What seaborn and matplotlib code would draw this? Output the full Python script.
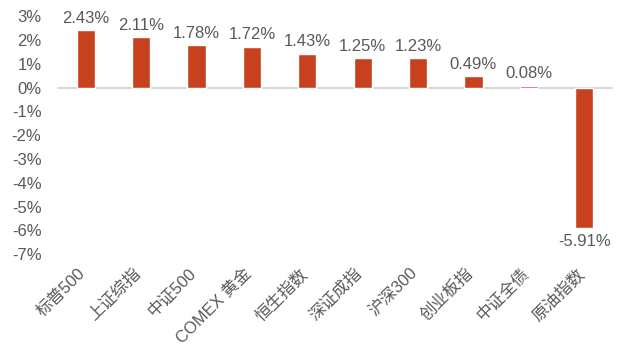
import matplotlib
matplotlib.use('Agg')
import matplotlib.pyplot as plt
import matplotlib.transforms as mtransforms
import seaborn as sns
import numpy as np
import pandas as pd
from matplotlib.ticker import FuncFormatter

# data
categories = ['标普500', '上证综指', '中证500', 'COMEX 黄金', '恒生指数',
              '深证成指', '沪深300', '创业板指', '中证全债', '原油指数']
returns = [2.43, 2.11, 1.78, 1.72, 1.43, 1.25, 1.23, 0.49, 0.08, -5.91]
y_ticks = [3, 2, 1, 0, -1, -2, -3, -4, -5, -6, -7]

df = pd.DataFrame({'name': categories, 'ret': returns})

sns.set_style("white")
plt.rcParams['font.family'] = ['Liberation Sans', 'Noto Sans CJK SC', 'DejaVu Sans']
text_color = '#595959'
bar_color = '#C8411E'

fig = plt.figure(figsize=(6.18, 3.51), dpi=100)
ax = fig.add_axes([0.094, 0.276, 0.896, 0.678])

sns.barplot(data=df, x='name', y='ret', color=bar_color, width=0.33,
            saturation=1, ax=ax, zorder=3)

ax.set_xlim(-0.5, len(categories) - 0.5)
ax.set_ylim(min(y_ticks), max(y_ticks))
ax.set_yticks(y_ticks)
ax.yaxis.set_major_formatter(FuncFormatter(lambda v, p: f'{v:.0f}%'))
ax.tick_params(axis='y', length=0, labelsize=12, labelcolor=text_color, pad=12)
ax.set_xlabel('')
ax.set_ylabel('')

# zero line with small ticks between categories
for s in ['top', 'right', 'left']:
    ax.spines[s].set_visible(False)
ax.spines['bottom'].set_position(('data', 0))
ax.spines['bottom'].set_color('#d0d0d0')
ax.spines['bottom'].set_linewidth(1.2)
ax.spines['bottom'].set_zorder(1)
ax.set_xticks(np.arange(len(categories)))
ax.set_xticks(np.arange(-0.5, len(categories), 1), minor=True)
ax.tick_params(axis='x', which='major', length=0, labelbottom=False)
ax.tick_params(axis='x', which='minor', length=4, width=1, color='#d0d0d0', direction='out')

# category labels at the bottom of the axes
sec = ax.secondary_xaxis('bottom')
sec.set_xticks(np.arange(len(categories)))
sec.set_xticklabels(categories, rotation=45, ha='right', rotation_mode='anchor')
sec.tick_params(length=0, labelsize=12, labelcolor=text_color, pad=8)
sec.spines['bottom'].set_visible(False)
shift = mtransforms.ScaledTranslation(-6 / 72, 0, fig.dpi_scale_trans)
for lab in sec.get_xticklabels():
    lab.set_transform(lab.get_transform() + shift)

# value labels
for i, v in enumerate(returns):
    if v >= 0:
        ax.annotate(f'{v:.2f}%', (i, v), xytext=(0, 3), textcoords='offset points',
                    ha='center', va='bottom', fontsize=12, color=text_color)
    else:
        ax.annotate(f'{v:.2f}%', (i, v), xytext=(0, -4), textcoords='offset points',
                    ha='center', va='top', fontsize=12, color=text_color)

plt.savefig('out.png', dpi=100)
plt.close()
